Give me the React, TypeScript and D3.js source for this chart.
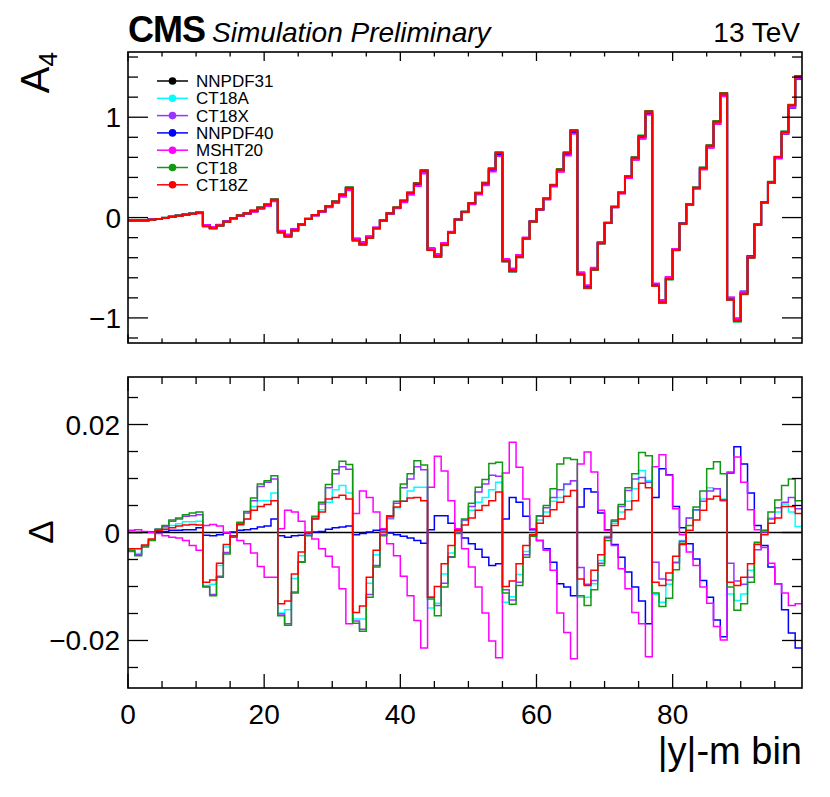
import React from "react";
import * as d3 from "d3";

// ---------------- data ----------------
const SERIES_NAMES = ["NNPDF31", "CT18A", "CT18X", "NNPDF40", "MSHT20", "CT18", "CT18Z"];
const SERIES_COLORS = ["#000000", "#00ffff", "#9933ff", "#0000ff", "#ff00ff", "#119911", "#ff0000"];

// A4 for the nominal (NNPDF31) prediction, 99 |y|-m bins
const A4_NNPDF31 = [
  -0.027, -0.027, -0.026, -0.020, -0.014, -0.004, 0.007, 0.017, 0.027, 0.037, 0.047,
  -0.076, -0.096, -0.073, -0.040, -0.007, 0.020, 0.040, 0.063, 0.093, 0.123, 0.172,
  -0.133, -0.173, -0.119, -0.066, -0.013, 0.023, 0.060, 0.106, 0.152, 0.219, 0.289,
  -0.212, -0.252, -0.192, -0.103, -0.030, 0.040, 0.096, 0.162, 0.239, 0.332, 0.461,
  -0.312, -0.378, -0.265, -0.146, -0.020, 0.056, 0.139, 0.239, 0.338, 0.478, 0.637,
  -0.425, -0.524, -0.385, -0.206, -0.040, 0.080, 0.186, 0.318, 0.471, 0.637, 0.859,
  -0.557, -0.690, -0.511, -0.252, -0.053, 0.106, 0.246, 0.405, 0.590, 0.803, 1.048,
  -0.670, -0.836, -0.604, -0.318, -0.060, 0.129, 0.295, 0.491, 0.710, 0.949, 1.230,
  -0.809, -1.022, -0.750, -0.391, -0.070, 0.152, 0.352, 0.600, 0.849, 1.114, 1.406,
];

// Differences to NNPDF31, in units of 1e-3
const D_NNPDF31 = new Array(99).fill(0);
const D_CT18A = [
  -3.3, -3.9, -2.4, -1.3, 0.6, 0.9, 1.3, 1.6, 2.0, 2.0, 2.1,
  -9.8, -9.6, -6.1, -2.7, -0.7, 1.3, 2.5, 4.8, 5.9, 5.9, 7.3,
  -14.9, -14.3, -8.5, -4.3, -0.3, 2.5, 4.2, 5.6, 7.9, 8.7, 7.3,
  -16.0, -16.0, -9.4, -4.1, -0.1, 2.5, 4.6, 5.9, 7.7, 8.4, 8.4,
  -14.0, -13.1, -7.7, -3.8, 0.2, 2.2, 4.1, 5.6, 6.5, 7.9, 9.3,
  -12.9, -11.9, -7.8, -3.5, -0.2, 2.3, 3.8, 5.8, 6.5, 8.9, 9.6,
  -12.0, -12.0, -9.5, -5.2, -0.7, 1.7, 3.8, 5.8, 8.1, 11.5, 9.6,
  -11.5, -12.9, -9.6, -5.7, -1.5, 2.7, 4.1, 6.2, 8.3, 8.1, 6.2,
  -11.4, -12.6, -11.4, -7.0, -2.1, 0.4, 2.7, 3.8, 5.3, 3.8, 1.1,
];
const D_CT18X = [
  -3.5, -4.1, -2.5, -1.4, 0.6, 1.1, 2.1, 2.5, 3.0, 3.1, 3.3,
  -10.0, -11.5, -8.1, -3.7, -0.7, 1.7, 3.6, 5.9, 8.5, 9.3, 9.9,
  -15.1, -16.9, -11.0, -5.4, -0.5, 2.7, 5.3, 8.3, 10.9, 12.2, 11.7,
  -16.4, -17.9, -11.5, -6.1, -0.4, 2.7, 5.4, 8.3, 9.9, 12.2, 11.6,
  -12.0, -13.5, -9.4, -4.5, 0.1, 2.3, 4.8, 7.5, 9.0, 10.6, 10.4,
  -10.6, -12.5, -9.2, -4.1, -0.6, 3.0, 4.6, 6.5, 7.9, 9.0, 9.6,
  -6.5, -9.6, -8.9, -5.7, -1.0, 2.1, 4.8, 7.8, 9.9, 10.2, 9.3,
  -5.5, -8.6, -8.8, -5.5, -1.6, 2.7, 4.2, 5.8, 7.7, 8.1, 5.9,
  -5.7, -9.0, -9.6, -8.3, -3.2, 0.1, 2.5, 4.6, 5.6, 6.5, 4.4,
];
const D_NNPDF40 = [
  0.0, 0.0, 0.1, 0.1, 0.2, 0.2, 0.4, 0.4, 0.5, 0.5, 0.9,
  -0.5, -0.6, -0.4, -0.1, 0.1, 0.4, 0.5, 0.7, 1.0, 1.2, 2.5,
  -0.6, -0.9, -0.6, -0.5, -0.1, 0.1, 0.2, 0.6, 0.9, 1.0, 1.2,
  -0.4, -0.2, 0.1, 0.4, 0.5, -0.1, -0.4, -0.7, -1.0, -1.5, -2.0,
  0.5, 3.1, 3.1, 1.7, 0.5, -1.0, -2.1, -3.1, -4.6, -6.1, -5.8,
  2.5, 6.5, 5.6, 3.0, 0.5, -1.5, -3.0, -5.5, -9.5, -10.1, -11.7,
  4.7, 8.1, 7.5, 3.6, 0.5, -2.2, -4.6, -7.3, -10.1, -12.7, -16.9,
  6.5, 11.8, 10.7, 4.8, 0.9, -2.1, -4.9, -8.9, -12.0, -16.2, -19.3,
  11.0, 15.9, 12.7, 7.3, 1.3, -2.4, -6.4, -9.5, -14.3, -18.6, -21.4,
];
const D_MSHT20 = [
  0.4, 0.5, 0.2, 0.0, -0.2, -0.6, -0.9, -1.0, -1.5, -2.4, -3.3,
  1.3, 1.5, 1.2, 0.0, -0.7, -1.5, -2.1, -3.8, -6.3, -8.3, -8.3,
  0.7, 4.1, 3.8, 2.1, 0.1, -1.2, -3.0, -4.4, -6.4, -10.4, -16.9,
  3.5, 7.7, 6.5, 3.8, 0.7, -2.1, -4.3, -8.1, -11.7, -16.3, -21.4,
  8.4, 14.1, 11.4, 5.9, 0.7, -3.0, -6.4, -10.1, -14.9, -20.1, -23.2,
  11.0, 16.7, 12.1, 6.2, 0.7, -1.5, -3.3, -7.0, -14.9, -18.5, -23.4,
  12.7, 14.9, 11.2, 4.1, 0.4, -2.4, -6.7, -10.4, -14.8, -16.9, -23.0,
  12.2, 14.4, 10.6, 4.4, -0.4, -3.6, -6.1, -10.1, -13.1, -17.4, -19.9,
  11.2, 14.0, 9.3, 4.2, 0.5, -2.8, -5.7, -9.5, -11.2, -13.5, -13.2,
];
const D_CT18 = [
  -3.3, -4.3, -2.7, -1.5, 0.6, 1.3, 2.3, 2.7, 3.3, 3.6, 3.8,
  -10.1, -11.7, -8.3, -4.0, -0.9, 1.9, 3.9, 6.4, 9.0, 9.6, 10.5,
  -15.4, -17.2, -11.2, -5.5, -0.6, 3.0, 5.6, 8.9, 11.6, 13.2, 12.6,
  -16.8, -18.3, -12.0, -6.4, -0.6, 3.1, 5.8, 9.0, 10.9, 13.3, 12.5,
  -12.3, -15.4, -10.1, -4.6, -0.2, 2.5, 5.4, 8.4, 9.8, 12.8, 13.0,
  -11.2, -13.3, -9.8, -4.6, -0.7, 3.1, 5.0, 8.1, 12.7, 13.8, 13.5,
  -11.7, -13.5, -10.6, -6.1, -1.5, 2.3, 5.2, 8.3, 10.9, 14.8, 14.2,
  -11.2, -13.7, -12.2, -6.9, -2.0, 1.3, 4.7, 7.7, 11.8, 13.1, 10.9,
  -10.1, -14.4, -13.2, -9.2, -1.8, 0.4, 3.8, 6.0, 8.7, 9.9, 5.9,
];
const D_CT18Z = [
  -3.0, -3.0, -2.3, -1.2, 0.4, 0.6, 0.9, 1.2, 1.4, 1.5, 1.4,
  -9.2, -8.8, -5.7, -2.2, -0.6, 1.5, 2.5, 4.1, 4.8, 5.2, 5.9,
  -13.2, -12.7, -7.7, -3.6, -0.1, 2.5, 3.8, 6.2, 6.5, 6.9, 6.2,
  -14.8, -13.6, -8.3, -3.3, 0.1, 3.0, 4.7, 5.8, 6.4, 6.5, 5.9,
  -12.0, -10.0, -5.8, -2.4, 0.4, 1.4, 2.7, 4.1, 5.0, 5.9, 7.5,
  -10.0, -9.0, -5.8, -2.4, -0.4, 1.7, 3.0, 4.2, 5.6, 6.7, 7.8,
  -8.6, -9.8, -7.0, -4.1, -0.9, 1.3, 2.5, 4.2, 5.9, 9.1, 8.3,
  -9.2, -9.8, -7.5, -4.4, -2.2, 0.4, 2.3, 4.1, 6.2, 6.7, 6.0,
  -9.2, -9.8, -8.3, -5.8, -2.2, -0.4, 1.7, 2.7, 4.8, 4.8, 3.5,
];
const DELTAS = [D_NNPDF31, D_CT18A, D_CT18X, D_NNPDF40, D_MSHT20, D_CT18, D_CT18Z];
const DELTA_UNIT = 1e-3;

const X_MAJOR = [0, 20, 40, 60, 80];
const X_LABELS = ["0", "20", "40", "60", "80"];
const TOP_Y_MAJOR = [-1, 0, 1];
const TOP_Y_LABELS = ["\u22121", "0", "1"];
const BOT_Y_MAJOR = [-20, 0, 20]; // in 1e-3
const BOT_Y_LABELS = ["\u22120.02", "0", "0.02"];

// ---------------- layout ----------------
const W = 830, H = 797;
const X0 = 128, X1 = 802;
const TY0 = 52, TY1 = 343;
const BY0 = 377, BY1 = 688;
const FONT = "'Liberation Sans', Arial, Helvetica, sans-serif";

const x = d3.scaleLinear().domain([0, 99]).range([X0, X1]);
const yTop = d3.scaleLinear().domain([-1.25, 1.65]).range([TY1, TY0]);
const yBot = d3.scaleLinear().domain([-28.8, 28.8]).range([BY1, BY0]);

function stepPath(vals: number[], ys: d3.ScaleLinear<number, number>) {
  const pts: [number, number][] = vals.map((v, i) => [i, v]);
  pts.push([vals.length, vals[vals.length - 1]]);
  return d3
    .line<[number, number]>()
    .x((d) => x(d[0]))
    .y((d) => ys(d[1]))
    .curve(d3.curveStepAfter)(pts) as string;
}

function Frame({ y0, y1, ys, yMajor, yMinor, xMaj, xMin }: any) {
  const items: any[] = [];
  d3.range(0, 100, 5).forEach((v) => {
    const major = v % 20 === 0;
    const len = major ? xMaj : xMin;
    items.push(<line key={"xb" + v} x1={x(v)} x2={x(v)} y1={y1} y2={y1 - len} />);
    items.push(<line key={"xt" + v} x1={x(v)} x2={x(v)} y1={y0} y2={y0 + len} />);
  });
  yMinor.forEach((v: number, i: number) => {
    const yy = ys(v);
    items.push(<line key={"yl" + i} x1={X0} x2={X0 + 10} y1={yy} y2={yy} />);
    items.push(<line key={"yr" + i} x1={X1} x2={X1 - 10} y1={yy} y2={yy} />);
  });
  yMajor.forEach((v: number, i: number) => {
    const yy = ys(v);
    items.push(<line key={"Yl" + i} x1={X0} x2={X0 + 20} y1={yy} y2={yy} />);
    items.push(<line key={"Yr" + i} x1={X1} x2={X1 - 20} y1={yy} y2={yy} />);
  });
  return (
    <g stroke="#000" strokeWidth={1.3} fill="none">
      {items}
      <rect x={X0} y={y0} width={X1 - X0} height={y1 - y0} strokeWidth={1.6} />
    </g>
  );
}

export default function App() {
  const topMinor = d3.range(-6, 9).map((k) => k * 0.2).filter((v) => Math.abs(v - Math.round(v)) > 1e-6);
  const botMinor = d3.range(-25, 26, 5).filter((v) => v % 20 !== 0);

  return (
    <svg
      width={W}
      height={H}
      viewBox={`0 0 ${W} ${H}`}
      style={{ position: "absolute", left: 0, top: 0, display: "block", background: "#fff" }}
      fontFamily={FONT}
    >
      <defs>
        <clipPath id="clipTop">
          <rect x={X0} y={TY0} width={X1 - X0} height={TY1 - TY0} />
        </clipPath>
        <clipPath id="clipBot">
          <rect x={X0} y={BY0} width={X1 - X0} height={BY1 - BY0} />
        </clipPath>
      </defs>
      <rect width={W} height={H} fill="#fff" />

      {/* header */}
      <text x={128} y={42} fontSize={36} fontWeight="bold" fill="#000" letterSpacing={-1}>CMS</text>
      <text x={212} y={42} fontSize={28} fontStyle="italic" fill="#000">Simulation Preliminary</text>
      <text x={800} y={42} fontSize={28} textAnchor="end" fill="#000">13 TeV</text>

      {/* top panel */}
      <g clipPath="url(#clipTop)" fill="none">
        {DELTAS.map((d, s) => (
          <path
            key={s}
            d={stepPath(A4_NNPDF31.map((v, i) => v + d[i] * DELTA_UNIT), yTop)}
            stroke={SERIES_COLORS[s]}
            strokeWidth={2}
          />
        ))}
      </g>
      <Frame y0={TY0} y1={TY1} ys={yTop} yMajor={TOP_Y_MAJOR} yMinor={topMinor} xMaj={9} xMin={4.5} />
      {TOP_Y_MAJOR.map((v, i) => (
        <text key={i} x={121} y={yTop(v) + 10} fontSize={28} textAnchor="end">{TOP_Y_LABELS[i]}</text>
      ))}
      <text transform={`translate(49,52) rotate(-90)`} fontSize={40} textAnchor="end">
        A<tspan fontSize={26} dy={8}>4</tspan>
      </text>

      {/* legend */}
      <g fontSize={17}>
        {SERIES_NAMES.map((n, i) => {
          const yy = 81 + i * 17.3;
          return (
            <g key={n}>
              <line x1={157} x2={188} y1={yy} y2={yy} stroke={SERIES_COLORS[i]} strokeWidth={1.5} />
              <circle cx={172.5} cy={yy} r={3.8} fill={SERIES_COLORS[i]} />
              <text x={196} y={yy + 6} fill="#000">{n}</text>
            </g>
          );
        })}
      </g>

      {/* bottom panel */}
      <g clipPath="url(#clipBot)" fill="none">
        {DELTAS.map((d, s) => (
          <path key={s} d={stepPath(d, yBot)} stroke={SERIES_COLORS[s]} strokeWidth={1.5} />
        ))}
      </g>
      <Frame y0={BY0} y1={BY1} ys={yBot} yMajor={BOT_Y_MAJOR} yMinor={botMinor} xMaj={14} xMin={7} />
      {BOT_Y_MAJOR.map((v, i) => (
        <text key={i} x={120} y={yBot(v) + 10} fontSize={28} textAnchor="end">{BOT_Y_LABELS[i]}</text>
      ))}
      <text transform={`translate(53,532) rotate(-90)`} fontSize={35} textAnchor="middle">Δ</text>

      {X_MAJOR.map((v, i) => (
        <text key={i} x={x(v)} y={724} fontSize={28} textAnchor="middle">{X_LABELS[i]}</text>
      ))}
      <text x={802} y={764} fontSize={38} textAnchor="end">|y|-m bin</text>
    </svg>
  );
}
